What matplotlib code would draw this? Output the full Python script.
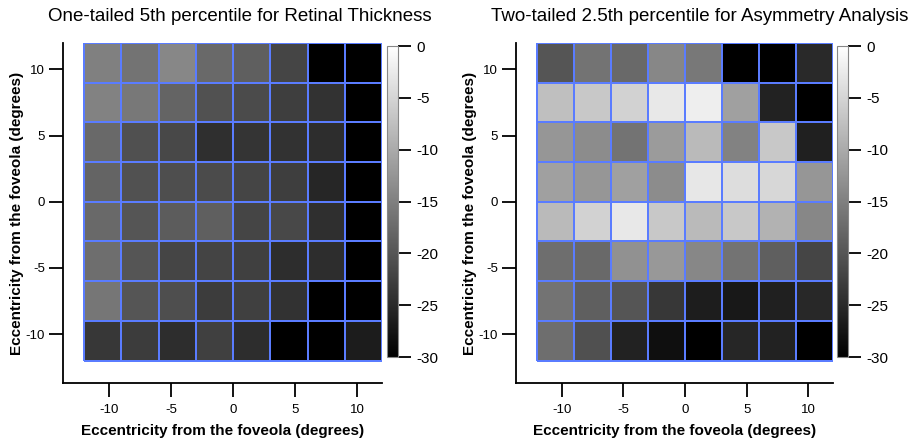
import matplotlib.pyplot as plt
import numpy as np

plt.rcParams['font.family'] = ['Liberation Sans', 'DejaVu Sans']
plt.rcParams['axes.unicode_minus'] = False

# cell edges (degrees)
edges = [-12, -9, -6, -3, 0, 3, 6, 9, 12]

# rows from top (y=+10.5) to bottom (y=-10.5)
retinal = [
    [-14.9, -16.5, -14.1, -17.6, -18.8, -21.8, -31.0, -31.0],
    [-14.7, -15.9, -18.2, -20.4, -21.2, -22.7, -24.1, -31.0],
    [-17.6, -20.6, -21.5, -24.4, -23.9, -24.1, -24.7, -31.0],
    [-18.2, -20.4, -20.8, -21.2, -21.8, -22.7, -25.5, -31.0],
    [-17.6, -20.0, -19.2, -18.8, -21.8, -21.5, -24.4, -31.0],
    [-17.1, -20.0, -21.8, -22.0, -22.4, -24.7, -24.7, -31.0],
    [-16.1, -20.0, -20.8, -22.9, -22.4, -24.1, -31.0, -31.0],
    [-23.5, -22.9, -24.7, -22.4, -24.7, -31.0, -31.0, -26.7],
]

asymmetry = [
    [-20.0, -16.5, -17.6, -14.1, -15.9, -31.0, -31.0, -25.1],
    [-7.6, -6.5, -5.3, -2.7, -2.0, -11.2, -25.9, -31.0],
    [-12.4, -13.5, -16.5, -11.8, -8.2, -14.7, -6.5, -26.2],
    [-11.2, -12.4, -11.2, -13.5, -2.9, -4.1, -4.7, -12.4],
    [-8.2, -5.3, -2.7, -6.5, -8.2, -6.5, -9.1, -14.1],
    [-17.1, -17.6, -12.9, -12.1, -14.1, -16.5, -18.8, -21.8],
    [-16.5, -18.8, -20.0, -23.5, -26.5, -27.1, -26.2, -25.3],
    [-17.1, -20.6, -25.9, -28.2, -30.0, -25.5, -25.9, -31.0],
]

titles = ['One-tailed 5th percentile for Retinal Thickness',
          'Two-tailed 2.5th percentile for Asymmetry Analysis']
xlabel = 'Eccentricity from the foveola (degrees)'
ylabel = 'Eccentricity from the foveola (degrees)'
ticks = [-10, -5, 0, 5, 10]
cbar_ticks = [0, -5, -10, -15, -20, -25, -30]

fig = plt.figure(figsize=(9.15, 4.43), dpi=100)

ax_pos = [[0.0689, 0.1354, 0.3486, 0.7675], [0.5639, 0.1354, 0.3465, 0.7675]]
cb_pos = [[0.4230, 0.194, 0.012, 0.702], [0.9148, 0.194, 0.012, 0.702]]
title_x = [0.262, 0.765]

for data, title, ap, cp, tx in zip([retinal, asymmetry], titles, ax_pos, cb_pos, title_x):
    ax = fig.add_axes(ap)
    z = np.array(data)[::-1]
    mesh = ax.pcolormesh(edges, edges, z, cmap='gray', vmin=-30, vmax=0,
                         edgecolors='#5a7cff', linewidth=1.3)
    ax.set_xlim(-13.7, 12)
    ax.set_ylim(-13.7, 12)
    ax.set_xticks(ticks)
    ax.set_yticks(ticks)
    for s in ['top', 'right']:
        ax.spines[s].set_visible(False)
    for s in ['left', 'bottom']:
        ax.spines[s].set_linewidth(1.3)
    ax.tick_params(direction='out', length=10, width=1.3, labelsize=9.5, pad=5)
    ax.tick_params(axis='y', pad=3)
    ax.set_xlabel(xlabel, fontsize=11, fontweight='bold', labelpad=6)
    ax.set_ylabel(ylabel, fontsize=11, fontweight='bold', labelpad=1)
    fig.text(tx, 0.962, title, fontsize=13.5, ha='center', va='center')

    cax = fig.add_axes(cp)
    cb = fig.colorbar(mesh, cax=cax, ticks=cbar_ticks)
    cb.outline.set_edgecolor('#888888')
    cb.outline.set_linewidth(0.8)
    cax.tick_params(length=9, width=1.3, labelsize=11, pad=4)

fig.savefig('out.png', dpi=100)
